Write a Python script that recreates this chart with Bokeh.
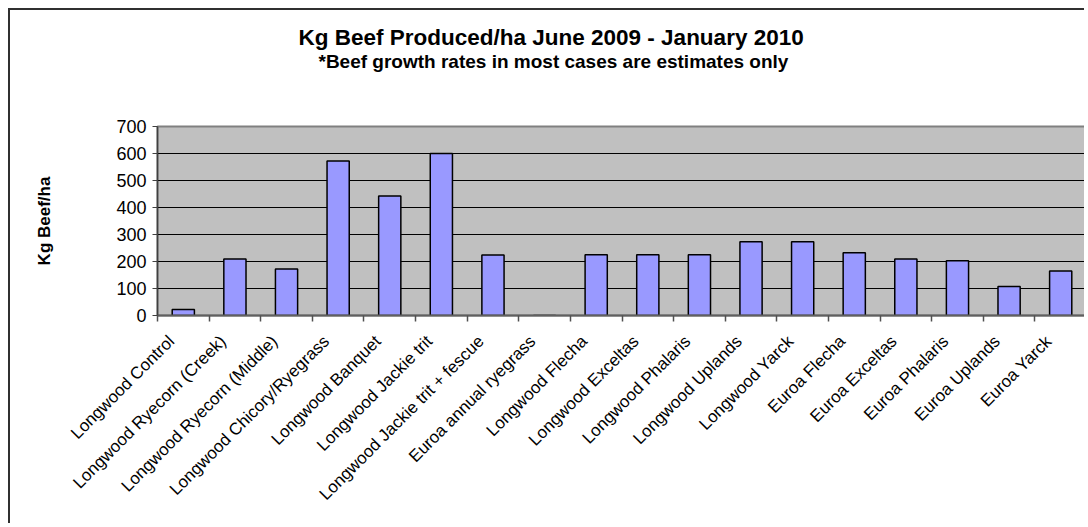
from bokeh.plotting import figure
from bokeh.models import FixedTicker, Range1d, ColumnDataSource, Title
from bokeh.embed import file_html
from bokeh.resources import INLINE
import math

categories = [
    "Longwood Control", "Longwood Ryecorn (Creek)", "Longwood Ryecorn (Middle)",
    "Longwood Chicory/Ryegrass", "Longwood Banquet", "Longwood Jackie trit",
    "Longwood Jackie trit + fescue", "Euroa annual ryegrass", "Longwood Flecha",
    "Longwood Exceltas", "Longwood Phalaris", "Longwood Uplands", "Longwood Yarck",
    "Euroa Flecha", "Euroa Exceltas", "Euroa Phalaris", "Euroa Uplands", "Euroa Yarck",
]
beef_kg_ha = [22, 209, 172, 572, 443, 600, 224, 0, 225, 225, 225, 273, 273, 232, 209, 203, 107, 165]
y_ticks = [0, 100, 200, 300, 400, 500, 600, 700]
title_text = "Kg Beef Produced/ha June 2009 - January 2010"
subtitle_text = "*Beef growth rates in most cases are estimates only"

FONT = "Liberation Sans"
n = len(categories)
centers = [i + 0.5 for i in range(n)]
label_pos = [i + 0.27 for i in range(n)]   # labels end a little left of the bar centre
bounds = list(range(n + 1))

src = ColumnDataSource(dict(x=centers, top=beef_kg_ha, name=categories))

p = figure(width=1076, height=515, output_backend="svg", toolbar_location=None, tools="",
           x_range=Range1d(0, n), y_range=Range1d(0, 700),
           min_border_left=147, min_border_right=0, min_border_top=116, min_border_bottom=210)
p.styles = {"margin-left": "8px", "margin-top": "8px",
            "border-left": "2px solid #303030", "border-top": "2px solid #303030"}
p.background_fill_color = "#C0C0C0"
p.border_fill_color = "white"
p.outline_line_color = "#808080"
p.outline_line_width = 2

p.vbar(x="x", top="top", width=0.43, bottom=0, source=src,
       fill_color="#9999FF", line_color="black", line_width=1.5)

# y axis
p.yaxis.ticker = FixedTicker(ticks=y_ticks)
p.yaxis.major_label_text_font = FONT
p.yaxis.major_label_text_font_size = "18px"
p.yaxis.major_label_text_color = "black"
p.yaxis.major_tick_in = 0
p.yaxis.major_tick_out = 5
p.yaxis.major_label_standoff = 6
p.yaxis.minor_tick_line_color = None
p.yaxis.axis_line_color = "#404040"
p.yaxis.axis_line_width = 1.5
p.yaxis.major_tick_line_color = "#404040"
p.yaxis.axis_label = "Kg Beef/ha"
p.yaxis.axis_label_text_font = FONT
p.yaxis.axis_label_text_font_size = "17px"
p.yaxis.axis_label_text_font_style = "bold"
p.yaxis.axis_label_text_color = "black"
p.yaxis.axis_label_standoff = 59

p.ygrid.ticker = FixedTicker(ticks=y_ticks)
p.ygrid.grid_line_color = "black"
p.ygrid.grid_line_width = 1
p.xgrid.grid_line_color = None

# x axis
p.xaxis.ticker = FixedTicker(ticks=label_pos, minor_ticks=bounds)
p.xaxis.major_label_overrides = {c: name for c, name in zip(label_pos, categories)}
p.xaxis.major_label_orientation = math.pi / 4
p.xaxis.major_label_text_font = FONT
p.xaxis.major_label_text_font_size = "17px"
p.xaxis.major_label_text_color = "black"
p.xaxis.major_tick_line_color = None
p.xaxis.minor_tick_in = 0
p.xaxis.minor_tick_out = 6
p.xaxis.minor_tick_line_color = "#505050"
p.xaxis.minor_tick_line_width = 1.5
p.xaxis.axis_line_color = "#606060"
p.xaxis.axis_line_width = 2
p.xaxis.major_label_standoff = 17

# titles: first added sits closest to the frame
spacer = Title(text=" ", text_font_size="10px")
sub = Title(text=subtitle_text, align="left", offset=161, text_font=FONT,
            text_font_size="19px", text_font_style="bold", text_color="black")
main = Title(text=title_text, align="left", offset=141, text_font=FONT,
             text_font_size="22.5px", text_font_style="bold", text_color="black")
if "standoff" in Title.properties():
    spacer.standoff = 52
    sub.standoff = -20
    main.standoff = 17
p.add_layout(spacer, "above")
p.add_layout(sub, "above")
p.add_layout(main, "above")

open("out.html", "w").write(file_html(p, INLINE))
